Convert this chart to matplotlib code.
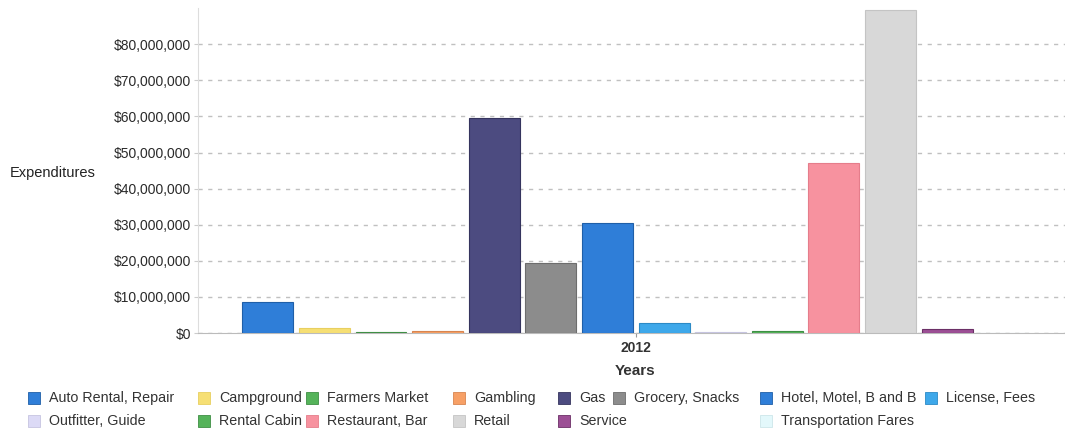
import matplotlib
matplotlib.use("Agg")
import matplotlib.pyplot as plt
from matplotlib.patches import Rectangle
from matplotlib.ticker import FuncFormatter

plt.rcParams['font.family'] = ['Liberation Sans', 'DejaVu Sans']

# data
categories = ['Auto Rental, Repair', 'Campground', 'Farmers Market', 'Gambling', 'Gas',
              'Grocery, Snacks', 'Hotel, Motel, B and B', 'License, Fees', 'Outfitter, Guide',
              'Rental Cabin', 'Restaurant, Bar', 'Retail', 'Service', 'Transportation Fares']
values = [8.6e6, 1.3e6, 0.2e6, 0.6e6, 59.5e6, 19.5e6, 30.5e6, 2.8e6, 0.3e6,
          0.6e6, 47.0e6, 89.5e6, 1.2e6, 0.1e6]
colors = ['#2f7ed8', '#f6df74', '#55b35a', '#f7a066', '#4c4b80', '#8c8c8c', '#2f7ed8',
          '#3ea8ea', '#dcdaf6', '#55b35a', '#f7929f', '#d8d8d8', '#9c4f95', '#e3f8fb']
edges = ['#1f5fa8', '#e8cf60', '#3f8f45', '#d88550', '#35345e', '#6d6d6d', '#1f5fa8',
         '#2c8ac6', '#c6c4e0', '#3f8f45', '#e57d8b', '#c4c4c4', '#6b2f66', '#cde6ea']
year_label = '2012'
y_ticks = [0, 10e6, 20e6, 30e6, 40e6, 50e6, 60e6, 70e6, 80e6]

fig = plt.figure(figsize=(10.65, 4.32), dpi=100)
ax = fig.add_axes([0.186, 0.229, 0.814, 0.752])

x = list(range(len(categories)))
ax.bar(x, values, width=0.9, color=colors, edgecolor=edges, linewidth=0.8, zorder=3)

ax.set_xlim(-1.23, 14.08)
ax.set_ylim(0, 90e6)
ax.set_yticks(y_ticks)
ax.yaxis.set_major_formatter(FuncFormatter(lambda v, p: f'${int(v):,}'))
ax.set_xticks([6.5])
ax.set_xticklabels([year_label], fontweight='bold')
ax.tick_params(axis='y', labelsize=10, labelcolor='#2a2a2a', length=3, color='#cccccc', pad=2)
ax.tick_params(axis='x', labelsize=10, labelcolor='#333333', length=3, color='#999999', pad=3)

ax.grid(axis='y', linestyle=(0, (3, 4)), color='#c0c0c0', linewidth=1.0, zorder=0)
for s in ['top', 'right']:
    ax.spines[s].set_visible(False)
ax.spines['left'].set_color('#dddddd')
ax.spines['bottom'].set_color('#bbbbbb')

fig.text(0.0095, 1 - 173 / 432, 'Expenditures', fontsize=10.5, color='#222222', va='center', ha='left')
fig.text(635 / 1065, 1 - 371 / 432, 'Years', fontsize=11, fontweight='bold', color='#333333',
         va='center', ha='center')

# legend laid out like the original (two rows)
leg_x = [28, 198, 306, 453, 558, 613, 760, 925,
         28, 198, 306, 453, 558, 760]
leg_y = [398] * 8 + [421] * 6
for name, c, e, lx, ly in zip(categories, colors, edges, leg_x, leg_y):
    fig.patches.append(Rectangle((lx / 1065, 1 - (ly + 6) / 432), 12 / 1065, 12 / 432,
                                 transform=fig.transFigure, facecolor=c, edgecolor=e,
                                 linewidth=0.6))
    fig.text((lx + 21) / 1065, 1 - (ly + 4) / 432, name, fontsize=10.3, color='#333333',
             va='baseline', ha='left')

fig.savefig('out.png', dpi=100)
